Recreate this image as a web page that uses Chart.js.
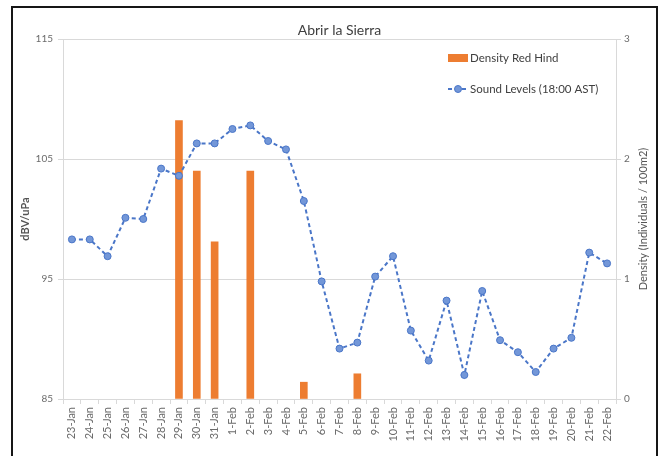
<!DOCTYPE html>
<html>
<head>
<meta charset="utf-8">
<script src="https://cdn.jsdelivr.net/npm/chart.js@4/dist/chart.umd.min.js"></script>
<style>
  html, body { margin: 0; padding: 0; background: #fff; }
  #wrap { position: relative; width: 660px; height: 456px; overflow: hidden; }
  #frame { position: absolute; left: 11px; top: 6px; width: 643px; height: 520px;
           border: 2.5px solid #161616; box-sizing: content-box; pointer-events: none; }
  canvas { position: absolute; left: 0; top: 0; }
</style>
</head>
<body>
<div id="wrap">
  <canvas id="c" width="660" height="456"></canvas>
  <div id="frame"></div>
</div>
<script>
// Daily sampling dates
const dates = ['23-Jan','24-Jan','25-Jan','26-Jan','27-Jan','28-Jan','29-Jan','30-Jan','31-Jan',
  '1-Feb','2-Feb','3-Feb','4-Feb','5-Feb','6-Feb','7-Feb','8-Feb','9-Feb','10-Feb','11-Feb',
  '12-Feb','13-Feb','14-Feb','15-Feb','16-Feb','17-Feb','18-Feb','19-Feb','20-Feb','21-Feb','22-Feb'];

// Sound levels at 18:00 AST (dBV/uPa)
const soundLevels = [98.3, 98.3, 96.9, 100.1, 100.0, 104.2, 103.6, 106.3, 106.3,
  107.5, 107.8, 106.5, 105.8, 101.5, 94.8, 89.2, 89.7, 95.2, 96.9, 90.7,
  88.2, 93.2, 87.0, 94.0, 89.9, 88.9, 87.25, 89.2, 90.1, 97.2, 96.3];

// Red hind density (individuals / 100 m2); empty days have no survey bar
const densityRedHind = [null, null, null, null, null, null, 2.32, 1.9, 1.31,
  null, 1.9, null, null, 0.14, null, null, 0.21, null, null, null,
  null, null, null, null, null, null, null, null, null, null, null];

const soundTicks = [85, 95, 105, 115];
const densityTicks = [0, 1, 2, 3];

const chartTitle = 'Abrir la Sierra';
const soundTitle = 'dBV/uPa';
const densityTitle = 'Density (Individuals / 100m2)';
const barLabel = 'Density Red Hind';
const lineLabel = 'Sound Levels (18:00 AST)';

const ORANGE = '#ED7D31';
const BLUE = '#4a76c8';
const BLUE_FILL = '#7397d8';
const GRID = '#d9d9d9';
const TICK_TEXT = '#6b6b6b';
const FONT = 'Lato, "Open Sans", sans-serif';

// Title, rotated axis titles and the in-plot legend
const decorations = {
  id: 'decorations',
  afterDraw(chart) {
    const ctx = chart.ctx;
    const a = chart.chartArea;
    const midY = (a.top + a.bottom) / 2;
    ctx.save();
    ctx.textBaseline = 'middle';

    ctx.fillStyle = '#404040';
    ctx.font = '14px ' + FONT;
    ctx.textAlign = 'center';
    ctx.fillText(chartTitle, (a.left + a.right) / 2, 30);

    ctx.fillStyle = '#555555';
    ctx.font = 'bold 11px ' + FONT;
    ctx.save();
    ctx.translate(25, midY);
    ctx.rotate(-Math.PI / 2);
    ctx.fillText(soundTitle, 0, 0);
    ctx.restore();

    ctx.font = '11px ' + FONT;
    ctx.save();
    ctx.translate(643, midY);
    ctx.rotate(-Math.PI / 2);
    ctx.fillText(densityTitle, 0, 0);
    ctx.restore();

    // legend
    const lx = 448, ly1 = 58, ly2 = 89;
    ctx.fillStyle = ORANGE;
    ctx.fillRect(lx, ly1 - 4, 20, 8);
    ctx.strokeStyle = BLUE;
    ctx.lineWidth = 2;
    ctx.setLineDash([4, 3]);
    ctx.beginPath();
    ctx.moveTo(lx, ly2);
    ctx.lineTo(lx + 20, ly2);
    ctx.stroke();
    ctx.setLineDash([]);
    ctx.fillStyle = BLUE_FILL;
    ctx.beginPath();
    ctx.arc(lx + 10, ly2, 3.5, 0, Math.PI * 2);
    ctx.fill();
    ctx.lineWidth = 1;
    ctx.stroke();

    ctx.fillStyle = '#404040';
    ctx.font = '11.5px ' + FONT;
    ctx.textAlign = 'left';
    ctx.fillText(barLabel, lx + 22, ly1);
    ctx.fillText(lineLabel, lx + 22, ly2);
    ctx.restore();
  }
};

new Chart(document.getElementById('c'), {
  type: 'bar',
  data: {
    labels: dates,
    datasets: [
      {
        type: 'line',
        label: lineLabel,
        data: soundLevels,
        yAxisID: 'y',
        order: 0,
        borderColor: BLUE,
        borderWidth: 2,
        borderDash: [4, 3],
        pointRadius: 3.5,
        pointBackgroundColor: BLUE_FILL,
        pointBorderColor: BLUE,
        pointBorderWidth: 1,
        tension: 0,
        fill: false
      },
      {
        type: 'bar',
        label: barLabel,
        data: densityRedHind,
        yAxisID: 'y1',
        order: 1,
        backgroundColor: ORANGE,
        borderWidth: 0,
        barThickness: 7
      }
    ]
  },
  options: {
    responsive: false,
    animation: false,
    devicePixelRatio: 1,
    layout: { padding: { top: 39, left: 0, right: 0, bottom: 0 } },
    plugins: { legend: { display: false }, title: { display: false }, tooltip: { enabled: false } },
    scales: {
      x: {
        offset: true,
        grid: { offset: true, drawOnChartArea: false, tickLength: 5, color: GRID },
        border: { color: GRID },
        ticks: {
          autoSkip: false, minRotation: 90, maxRotation: 90, padding: 3,
          color: TICK_TEXT, font: { family: FONT, size: 11 }
        },
        afterFit(s) { s.height = 57; }
      },
      y: {
        position: 'left',
        min: 85, max: 115,
        afterBuildTicks(s) { s.ticks = soundTicks.map(v => ({ value: v })); },
        grid: { color: GRID, tickLength: 5 },
        border: { color: GRID },
        ticks: { padding: 5, color: TICK_TEXT, font: { family: FONT, size: 10 } },
        afterFit(s) { s.width = 63; }
      },
      y1: {
        position: 'right',
        min: 0, max: 3,
        afterBuildTicks(s) { s.ticks = densityTicks.map(v => ({ value: v })); },
        grid: { drawOnChartArea: false, color: GRID, tickLength: 5 },
        border: { color: GRID },
        ticks: { padding: 3, color: TICK_TEXT, font: { family: FONT, size: 10 } },
        afterFit(s) { s.width = 44; }
      }
    }
  },
  plugins: [decorations]
});
</script>
</body>
</html>
